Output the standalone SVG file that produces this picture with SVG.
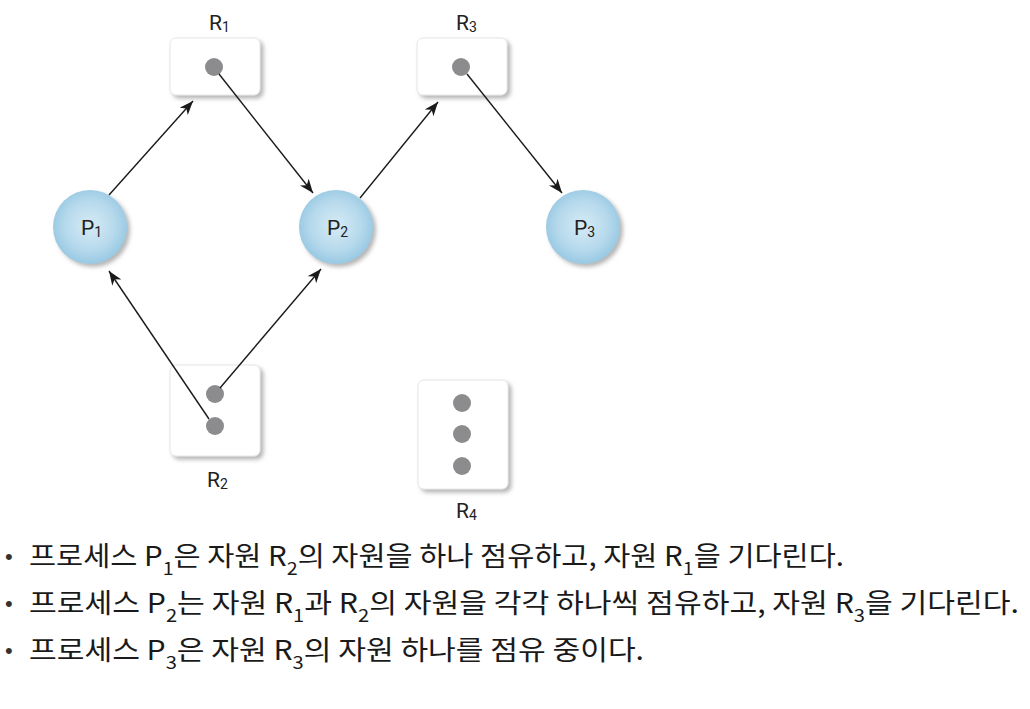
<svg xmlns="http://www.w3.org/2000/svg" width="1030" height="709" viewBox="0 0 1030 709">
  <style>
    .box { fill: #ffffff; stroke: #e6e6e6; stroke-width: 1; }
    .dot { fill: #8c8c8e; }
    .proc { fill: url(#blue); }
    .lbl { font-family: Roboto, "Liberation Sans", sans-serif; font-size: 21px; fill: #222222; }
    .sub { font-size: 14px; }
    .edge { fill: none; stroke: #1a1a1a; stroke-width: 1.4; marker-end: url(#arrow); }
    .line { font-family: "Noto Sans CJK KR", "Noto Sans", sans-serif; font-size: 27px; fill: #1a1a1a; }
    .tsub { font-size: 18px; }
    .bullet { font-family: "Liberation Sans", sans-serif; font-size: 22px; fill: #333333; }
  </style>
  <defs>
    <radialGradient id="blue" cx="50%" cy="48%" r="52%">
      <stop offset="0%" stop-color="#d6ebf5"/>
      <stop offset="65%" stop-color="#b6d9ec"/>
      <stop offset="100%" stop-color="#98c9e3"/>
    </radialGradient>
    <filter id="shadow" x="-20%" y="-20%" width="150%" height="150%">
      <feDropShadow dx="3" dy="3" stdDeviation="2" flood-color="#777777" flood-opacity="0.55"/>
    </filter>
    <marker id="arrow" markerUnits="userSpaceOnUse" markerWidth="15" markerHeight="11" refX="14" refY="5.5" orient="auto">
      <path d="M0,0 L14,5.5 L0,11 L4,5.5 z" fill="#1a1a1a"/>
    </marker>
  </defs>

  <g id="R1">
    <rect class="box" x="170" y="38" width="90" height="57" rx="6" filter="url(#shadow)"/>
    <circle class="dot" cx="214" cy="67" r="9"/>
    <text class="lbl" x="209" y="30">R<tspan class="sub" dy="2">1</tspan></text>
  </g>
  <g id="R3">
    <rect class="box" x="417" y="38" width="90" height="57" rx="6" filter="url(#shadow)"/>
    <circle class="dot" cx="461" cy="67" r="9"/>
    <text class="lbl" x="456" y="30">R<tspan class="sub" dy="2">3</tspan></text>
  </g>
  <g id="R2">
    <rect class="box" x="170" y="365" width="90" height="91" rx="6" filter="url(#shadow)"/>
    <circle class="dot" cx="215" cy="394" r="9"/>
    <circle class="dot" cx="215" cy="426" r="9"/>
    <text class="lbl" x="207" y="487">R<tspan class="sub" dy="2">2</tspan></text>
  </g>
  <g id="R4">
    <rect class="box" x="418" y="380" width="90" height="109" rx="6" filter="url(#shadow)"/>
    <circle class="dot" cx="462" cy="403" r="9"/>
    <circle class="dot" cx="462" cy="434" r="9"/>
    <circle class="dot" cx="462" cy="466" r="9"/>
    <text class="lbl" x="456" y="518">R<tspan class="sub" dy="2">4</tspan></text>
  </g>
  <g id="P1">
    <circle class="proc" cx="90" cy="227" r="37" filter="url(#shadow)"/>
    <text class="lbl" x="81" y="235">P<tspan class="sub" dy="2">1</tspan></text>
  </g>
  <g id="P2">
    <circle class="proc" cx="336" cy="227" r="37" filter="url(#shadow)"/>
    <text class="lbl" x="327" y="235">P<tspan class="sub" dy="2">2</tspan></text>
  </g>
  <g id="P3">
    <circle class="proc" cx="583" cy="227" r="37" filter="url(#shadow)"/>
    <text class="lbl" x="574" y="235">P<tspan class="sub" dy="2">3</tspan></text>
  </g>

  <g id="connectors">
    <line class="edge" x1="109" y1="195" x2="193" y2="101"/>
    <line class="edge" x1="219" y1="74" x2="313" y2="193"/>
    <line class="edge" x1="360" y1="198" x2="438" y2="102"/>
    <line class="edge" x1="467" y1="74" x2="562" y2="193"/>
    <line class="edge" x1="209" y1="419" x2="109" y2="271"/>
    <line class="edge" x1="220" y1="388" x2="321" y2="269"/>
  </g>

  <g id="notes">
    <text class="bullet" x="5" y="564">•</text>
    <text class="line" x="29" y="566" textLength="815" lengthAdjust="spacingAndGlyphs">프로세스 P<tspan class="tsub" dy="9">1</tspan><tspan dy="-9">은 자원 R</tspan><tspan class="tsub" dy="9">2</tspan><tspan dy="-9">의 자원을 하나 점유하고, 자원 R</tspan><tspan class="tsub" dy="9">1</tspan><tspan dy="-9">을 기다린다.</tspan></text>
    <text class="bullet" x="5" y="611">•</text>
    <text class="line" x="29" y="613" textLength="990" lengthAdjust="spacingAndGlyphs">프로세스 P<tspan class="tsub" dy="9">2</tspan><tspan dy="-9">는 자원 R</tspan><tspan class="tsub" dy="9">1</tspan><tspan dy="-9">과 R</tspan><tspan class="tsub" dy="9">2</tspan><tspan dy="-9">의 자원을 각각 하나씩 점유하고, 자원 R</tspan><tspan class="tsub" dy="9">3</tspan><tspan dy="-9">을 기다린다.</tspan></text>
    <text class="bullet" x="5" y="658">•</text>
    <text class="line" x="29" y="660" textLength="615" lengthAdjust="spacingAndGlyphs">프로세스 P<tspan class="tsub" dy="9">3</tspan><tspan dy="-9">은 자원 R</tspan><tspan class="tsub" dy="9">3</tspan><tspan dy="-9">의 자원 하나를 점유 중이다.</tspan></text>
  </g>
</svg>
